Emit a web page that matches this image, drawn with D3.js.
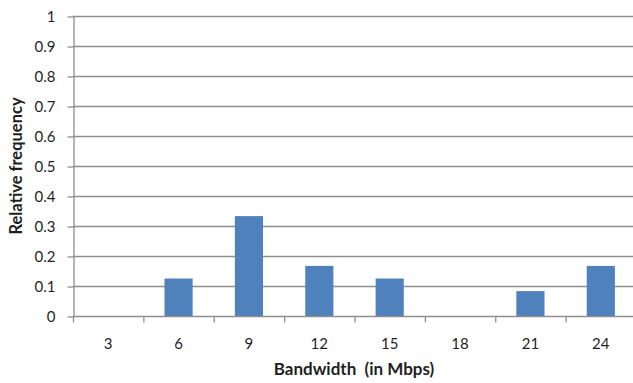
<!DOCTYPE html>
<html>
<head>
<meta charset="utf-8">
<script src="https://cdn.jsdelivr.net/npm/d3@7"></script>
<style>
  html, body { margin: 0; padding: 0; background: #fff; }
  svg { display: block; }
  text { font-family: Lato, "Open Sans", sans-serif; fill: #1f1f1f; }
</style>
</head>
<body>
<script>
// Relative frequency of measured bandwidth, grouped in 3 Mbps bins
const categories = ["3", "6", "9", "12", "15", "18", "21", "24"];
const frequencies = [0, 0.125, 0.333, 0.167, 0.125, 0, 0.083, 0.167];
const yTicks = [0, 0.1, 0.2, 0.3, 0.4, 0.5, 0.6, 0.7, 0.8, 0.9, 1];

const width = 633, height = 383;
const margin = { top: 16, right: -3, bottom: 67, left: 73 };
const innerW = width - margin.left - margin.right;
const innerH = height - margin.top - margin.bottom;

const labelSize = 15;
const titleSize = 16.5;

const svg = d3.select("body").append("svg")
  .attr("width", width).attr("height", height);

const g = svg.append("g").attr("transform", `translate(${margin.left},${margin.top})`);

const x = d3.scaleBand().domain(categories).range([0, innerW]).padding(0);
const y = d3.scaleLinear().domain([0, 1]).range([innerH, 0]);

const gridColor = "#8e8e8e";

// horizontal gridlines
g.append("g").selectAll("line").data(yTicks.slice(1)).join("line")
  .attr("x1", 0).attr("x2", innerW)
  .attr("y1", d => y(d) + 0.5).attr("y2", d => y(d) + 0.5)
  .attr("stroke", gridColor).attr("stroke-width", 1.3);

// bars
const barW = x.bandwidth() * 0.4;
g.append("g").selectAll("rect").data(frequencies).join("rect")
  .attr("x", (d, i) => x(categories[i]) + (x.bandwidth() - barW) / 2)
  .attr("y", d => y(d))
  .attr("width", barW)
  .attr("height", d => innerH - y(d))
  .attr("fill", "#4f81bd");

// y axis
const yAxis = g.append("g").attr("transform", "translate(0.5,0)")
  .call(d3.axisLeft(y).tickValues(yTicks).tickFormat(d3.format("")).tickSize(6).tickSizeOuter(0).tickPadding(12));
yAxis.select(".domain").attr("stroke", gridColor).attr("stroke-width", 1.3);
yAxis.selectAll(".tick line").attr("stroke", gridColor).attr("stroke-width", 1.3)
  .attr("transform", "translate(0,0.5)");
yAxis.selectAll(".tick text").attr("font-size", labelSize).attr("font-family", "Lato, sans-serif")
  .attr("fill", "#1f1f1f").attr("dy", "0.34em");

// x axis with ticks on band boundaries
const xAxisG = g.append("g").attr("transform", `translate(0,${innerH + 0.5})`);
xAxisG.append("line").attr("x1", 0).attr("x2", innerW)
  .attr("stroke", gridColor).attr("stroke-width", 1.3);
xAxisG.selectAll("line.tk").data(categories.concat(["end"])).join("line")
  .attr("class", "tk")
  .attr("x1", (d, i) => i * x.step() + 0.5).attr("x2", (d, i) => i * x.step() + 0.5)
  .attr("y1", 0).attr("y2", 6)
  .attr("stroke", gridColor).attr("stroke-width", 1.3);
xAxisG.selectAll("text").data(categories).join("text")
  .attr("x", d => x(d) + x.bandwidth() / 2)
  .attr("y", 32)
  .attr("text-anchor", "middle")
  .attr("font-size", labelSize)
  .text(d => d);

// axis titles
svg.append("text")
  .attr("x", 354).attr("y", 375)
  .attr("text-anchor", "middle")
  .attr("font-size", 17).attr("font-weight", "bold")
  .attr("xml:space", "preserve")
  .text("Bandwidth  (in Mbps)");

svg.append("text")
  .attr("transform", `translate(22,${margin.top + innerH / 2}) rotate(-90)`)
  .attr("text-anchor", "middle")
  .attr("font-size", titleSize).attr("font-weight", "bold")
  .text("Relative frequency");
</script>
</body>
</html>
